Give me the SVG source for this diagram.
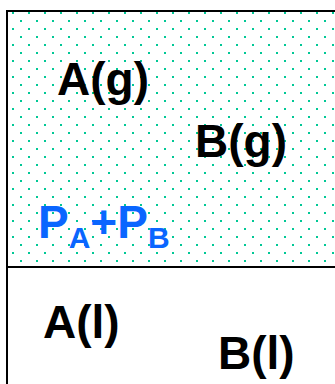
<svg xmlns="http://www.w3.org/2000/svg" width="335" height="384" viewBox="0 0 335 384">
<style>
.lbl{font-family:"Liberation Sans",Arial,sans-serif;font-weight:bold;font-size:46px;fill:#000}
.p{fill:#0a66ff}
.edge{stroke:#000;stroke-width:2;fill:none}
</style>
<defs>
<pattern id="dots" patternUnits="userSpaceOnUse" x="12" y="12" width="16" height="16">
<rect x="0" y="0" width="2" height="2" fill="#00c896"/>
<rect x="8" y="8" width="2" height="2" fill="#00c896"/>
</pattern>
</defs>
<rect width="335" height="384" fill="#fff"/>
<g id="gas-phase">
<rect x="7" y="11" width="328" height="256" fill="url(#dots)"/>
</g>
<g id="borders">
<line class="edge" x1="6" y1="11" x2="335" y2="11"/>
<line class="edge" x1="7" y1="10" x2="7" y2="384"/>
<line class="edge" x1="6" y1="267" x2="335" y2="267"/>
</g>
<g id="Ag"><text class="lbl" x="57" y="95">A(g)</text></g>
<g id="Bg"><text class="lbl" x="195" y="157">B(g)</text></g>
<g id="PAPB"><text class="lbl p" x="38" y="238">P<tspan font-size="30" dy="10">A</tspan><tspan dy="-10">+P</tspan><tspan font-size="30" dy="10">B</tspan></text></g>
<g id="Al"><text class="lbl" x="43" y="338">A(l)</text></g>
<g id="Bl"><text class="lbl" x="218" y="369">B(l)</text></g>
</svg>
